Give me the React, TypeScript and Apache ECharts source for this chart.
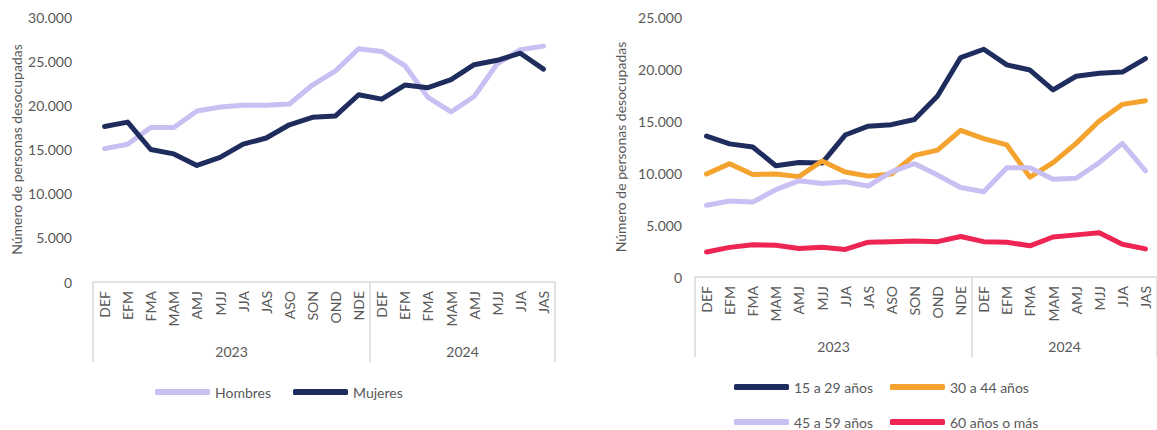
import React, { useEffect, useRef } from "react";
import * as echarts from "echarts";

const categories = [
  "DEF", "EFM", "FMA", "MAM", "AMJ", "MJJ", "JJA", "JAS", "ASO", "SON", "OND", "NDE",
  "DEF", "EFM", "FMA", "MAM", "AMJ", "MJJ", "JJA", "JAS",
];
const years = ["2023", "2024"];
const yearCounts = [12, 8];

const hombres = [15100, 15600, 17500, 17500, 19350, 19800, 20000, 20000, 20150, 22300, 23900, 26400, 26100, 24500, 20900, 19250, 21000, 24700, 26300, 26700];
const mujeres = [17600, 18100, 15000, 14500, 13200, 14100, 15600, 16300, 17800, 18650, 18800, 21200, 20700, 22300, 22000, 22900, 24600, 25100, 25900, 24100];

const edad15a29 = [13550, 12800, 12500, 10700, 11000, 10950, 13650, 14500, 14650, 15150, 17400, 21100, 21900, 20400, 19900, 18000, 19300, 19600, 19700, 21000];
const edad30a44 = [9900, 10900, 9850, 9900, 9650, 11150, 10100, 9700, 9900, 11700, 12200, 14100, 13300, 12700, 9600, 11000, 12850, 15000, 16600, 16950];
const edad45a59 = [6900, 7300, 7200, 8400, 9250, 9000, 9150, 8750, 10100, 10900, 9800, 8600, 8200, 10500, 10500, 9400, 9500, 11000, 12850, 10200];
const edad60mas = [2400, 2850, 3100, 3050, 2750, 2850, 2650, 3350, 3400, 3450, 3400, 3900, 3400, 3350, 3000, 3850, 4050, 4250, 3150, 2700];

const leftMax = 30000;
const rightMax = 25000;
const yStep = 5000;
const yName = "Número de personas desocupadas";

const FONT = "Lato, 'Open Sans', sans-serif";
const TEXT = "#595959";
const AXIS = "#d9d9d9";

const fmt = (v: number) => String(v).replace(/\B(?=(\d{3})+(?!\d))/g, ".");

const boundaries: number[] = [0];
yearCounts.forEach((c) => boundaries.push(boundaries[boundaries.length - 1] + c));
const centers = yearCounts.map((c, i) => boundaries[i] + c / 2);

export default function App() {
  const ref = useRef<HTMLDivElement>(null);
  useEffect(() => {
    if (!ref.current) return;
    const chart = echarts.init(ref.current, null, { renderer: "svg" });

    const catAxis = (gridIndex: number) => ({
      type: "category",
      gridIndex,
      position: "bottom",
      data: categories,
      boundaryGap: true,
      axisLine: { show: true, lineStyle: { color: AXIS, width: 1.5 } },
      axisTick: { show: false },
      axisLabel: { rotate: 90, interval: 0, color: TEXT, fontFamily: FONT, fontSize: 14, margin: 9 },
    });
    const yearAxis = (gridIndex: number) => ({
      type: "value",
      gridIndex,
      position: "bottom",
      min: 0,
      max: categories.length,
      splitLine: { show: false },
      axisLine: { show: false },
      axisTick: { show: true, customValues: boundaries, length: 80, lineStyle: { color: AXIS, width: 1.5 } },
      axisLabel: {
        customValues: centers,
        formatter: (v: number) => years[centers.indexOf(v)] ?? "",
        color: TEXT,
        fontFamily: FONT,
        fontSize: 14,
        margin: 62,
      },
    });
    const valAxis = (gridIndex: number, max: number, margin: number, nameGap: number) => ({
      type: "value",
      gridIndex,
      min: 0,
      max,
      interval: yStep,
      name: yName,
      nameLocation: "middle",
      nameGap,
      nameTextStyle: { color: TEXT, fontFamily: FONT, fontSize: 14 },
      splitLine: { show: false },
      axisLine: { show: false },
      axisTick: { show: false },
      axisLabel: { formatter: fmt, color: TEXT, fontFamily: FONT, fontSize: 14, margin },
    });
    const line = (name: string, data: number[], color: string, xAxisIndex: number, yAxisIndex: number) => ({
      type: "line",
      name,
      data,
      xAxisIndex,
      yAxisIndex,
      showSymbol: false,
      symbol: "none",
      lineStyle: { color, width: 5, cap: "round", join: "round" },
      itemStyle: { color },
    });
    const legendBase = {
      icon: "roundRect",
      itemWidth: 55,
      itemHeight: 6,
      padding: 0,
      textStyle: { color: TEXT, fontFamily: FONT, fontSize: 14 },
      orient: "horizontal",
    };

    chart.setOption({
      animation: false,
      grid: [
        { left: 93, top: 17, width: 462, height: 265 },
        { left: 695, top: 17, width: 466, height: 260 },
      ],
      xAxis: [catAxis(0), yearAxis(0), catAxis(1), yearAxis(1)],
      yAxis: [valAxis(0, leftMax, 21, 70), valAxis(1, rightMax, 13, 68)],
      legend: [
        { ...legendBase, data: ["Hombres", "Mujeres"], left: 155, top: 385, itemGap: 22 },
        { ...legendBase, data: ["15 a 29 años", "30 a 44 años"], left: 734, top: 380, itemGap: 17 },
        { ...legendBase, data: ["45 a 59 años", "60 años o más"], left: 734, top: 415, itemGap: 17 },
      ],
      series: [
        line("Hombres", hombres, "#c9bff2", 0, 0),
        line("Mujeres", mujeres, "#1f2d5e", 0, 0),
        line("15 a 29 años", edad15a29, "#1f2d5e", 2, 1),
        line("30 a 44 años", edad30a44, "#f4a42e", 2, 1),
        line("45 a 59 años", edad45a59, "#c9bff2", 2, 1),
        line("60 años o más", edad60mas, "#ee2552", 2, 1),
      ],
    });
    return () => chart.dispose();
  }, []);
  return <div ref={ref} style={{ position: "absolute", left: 0, top: 0, width: 1157, height: 430 }} />;
}
